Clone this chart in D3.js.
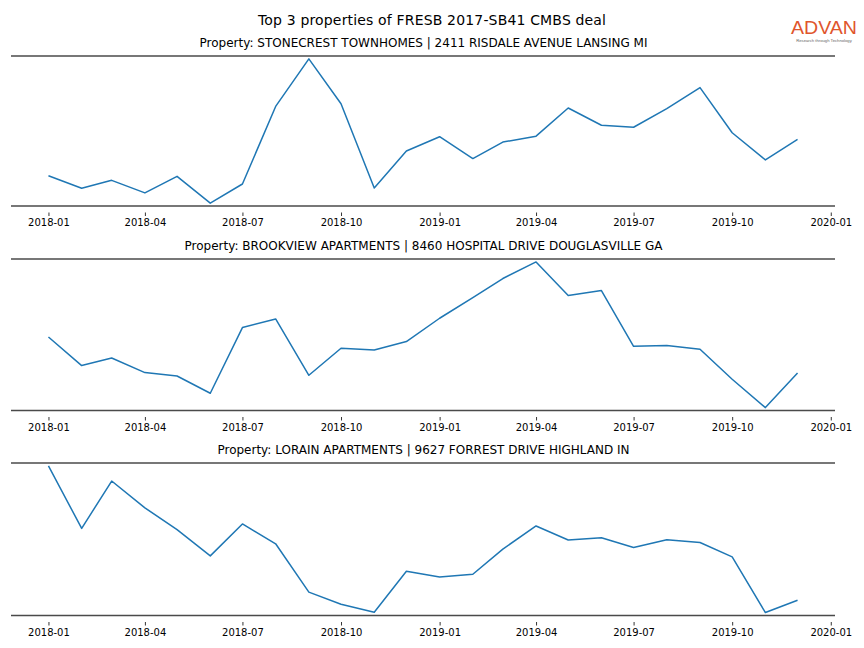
<!DOCTYPE html>
<html>
<head>
<meta charset="utf-8">
<script src="https://cdn.jsdelivr.net/npm/d3@7"></script>
<style>
  html, body { margin: 0; padding: 0; background: #fff; }
  svg { display: block; font-family: "DejaVu Sans", sans-serif; }
</style>
</head>
<body>
<svg id="chart" width="864" height="648"></svg>
<script>
// ---- data ----
const months = ["2018-01","2018-02","2018-03","2018-04","2018-05","2018-06","2018-07","2018-08","2018-09","2018-10","2018-11","2018-12",
                "2019-01","2019-02","2019-03","2019-04","2019-05","2019-06","2019-07","2019-08","2019-09","2019-10","2019-11","2019-12"];
const stonecrest = [293,167,247,120,287,17,210,993,1473,1020,170,543,687,467,633,693,977,803,783,970,1183,727,453,660];
const brookview  = [733,447,523,377,343,170,827,913,350,620,603,687,920,1127,1317,1483,1147,1197,640,647,610,310,27,373];
const lorain     = [1493,873,1343,1077,860,600,917,720,240,120,40,447,390,417,667,897,757,780,683,760,733,590,37,160];
const panelTitles = [
  "Property: STONECREST TOWNHOMES | 2411 RISDALE AVENUE LANSING MI",
  "Property: BROOKVIEW APARTMENTS | 8460 HOSPITAL DRIVE DOUGLASVILLE GA",
  "Property: LORAIN APARTMENTS | 9627 FORREST DRIVE HIGHLAND IN"
];
const tickLabels = ["2018-01","2018-04","2018-07","2018-10","2019-01","2019-04","2019-07","2019-10","2020-01"];
const mainTitle = "Top 3 properties of FRESB 2017-SB41 CMBS deal";

// ---- layout ----
const svg = d3.select("#chart");
const parse = d3.timeParse("%Y-%m");
const dates = months.map(parse);
const tickDates = tickLabels.map(parse);
const left = 11, right = 835;
const panels = [
  { top: 56, bottom: 206, values: stonecrest },
  { top: 259, bottom: 410.5, values: brookview },
  { top: 463, bottom: 615.5, values: lorain }
];

const t0 = dates[0].getTime(), t1 = dates[dates.length - 1].getTime();
const span = t1 - t0;
const x = d3.scaleTime()
  .domain([new Date(t0 - 0.05 * span), new Date(t1 + 0.05 * span)])
  .range([left, right]);

svg.append("text")
  .attr("x", 432).attr("y", 24.5)
  .attr("text-anchor", "middle")
  .attr("font-size", 14)
  .attr("fill", "#000")
  .attr("textLength", 348)
  .attr("lengthAdjust", "spacing")
  .text(mainTitle);

// logo
const logo = svg.append("g");
logo.append("text")
  .attr("x", 824).attr("y", 33.5)
  .attr("text-anchor", "middle")
  .attr("font-family", "Liberation Sans, Arial, sans-serif")
  .attr("font-size", 18)
  .attr("fill", "#e0552c")
  .attr("textLength", 66)
  .attr("lengthAdjust", "spacingAndGlyphs")
  .text("ADVAN");
logo.append("text")
  .attr("x", 824).attr("y", 41.5)
  .attr("text-anchor", "middle")
  .attr("font-family", "Liberation Sans, Arial, sans-serif")
  .attr("font-size", 4.2)
  .attr("fill", "#666")
  .text("Research through Technology");

panels.forEach((p, i) => {
  const ext = d3.extent(p.values);
  const pad = 0.02 * (ext[1] - ext[0]);
  const y = d3.scaleLinear().domain([ext[0] - pad, ext[1] + pad]).range([p.bottom, p.top]);
  const g = svg.append("g");

  g.append("text")
    .attr("x", (left + right) / 2 + 0.5).attr("y", p.top - 9.5)
    .attr("text-anchor", "middle")
    .attr("font-size", 12)
    .attr("fill", "#000")
    .text(panelTitles[i]);

  // spines
  [p.top, p.bottom].forEach(yy => {
    g.append("line")
      .attr("x1", left).attr("x2", right)
      .attr("y1", yy).attr("y2", yy)
      .attr("stroke", "#4a4a4a").attr("stroke-width", 1.6);
  });

  // x axis
  const axis = d3.axisBottom(x)
    .tickValues(tickDates)
    .tickFormat(d3.timeFormat("%Y-%m"))
    .tickSize(3.5)
    .tickPadding(3);
  const ag = g.append("g")
    .attr("transform", `translate(0,${p.bottom + 6.5})`)
    .call(axis);
  ag.select(".domain").remove();
  ag.selectAll(".tick line").attr("stroke", "#000").attr("stroke-width", 0.8);
  ag.selectAll(".tick text")
    .attr("font-size", 10)
    .attr("font-family", "DejaVu Sans, sans-serif")
    .attr("fill", "#000");

  // line
  const line = d3.line().x((d, j) => x(dates[j])).y(d => y(d));
  g.append("path")
    .datum(p.values)
    .attr("d", line)
    .attr("fill", "none")
    .attr("stroke", "#1f77b4")
    .attr("stroke-width", 1.5)
    .attr("stroke-linejoin", "round");
});
</script>
</body>
</html>
